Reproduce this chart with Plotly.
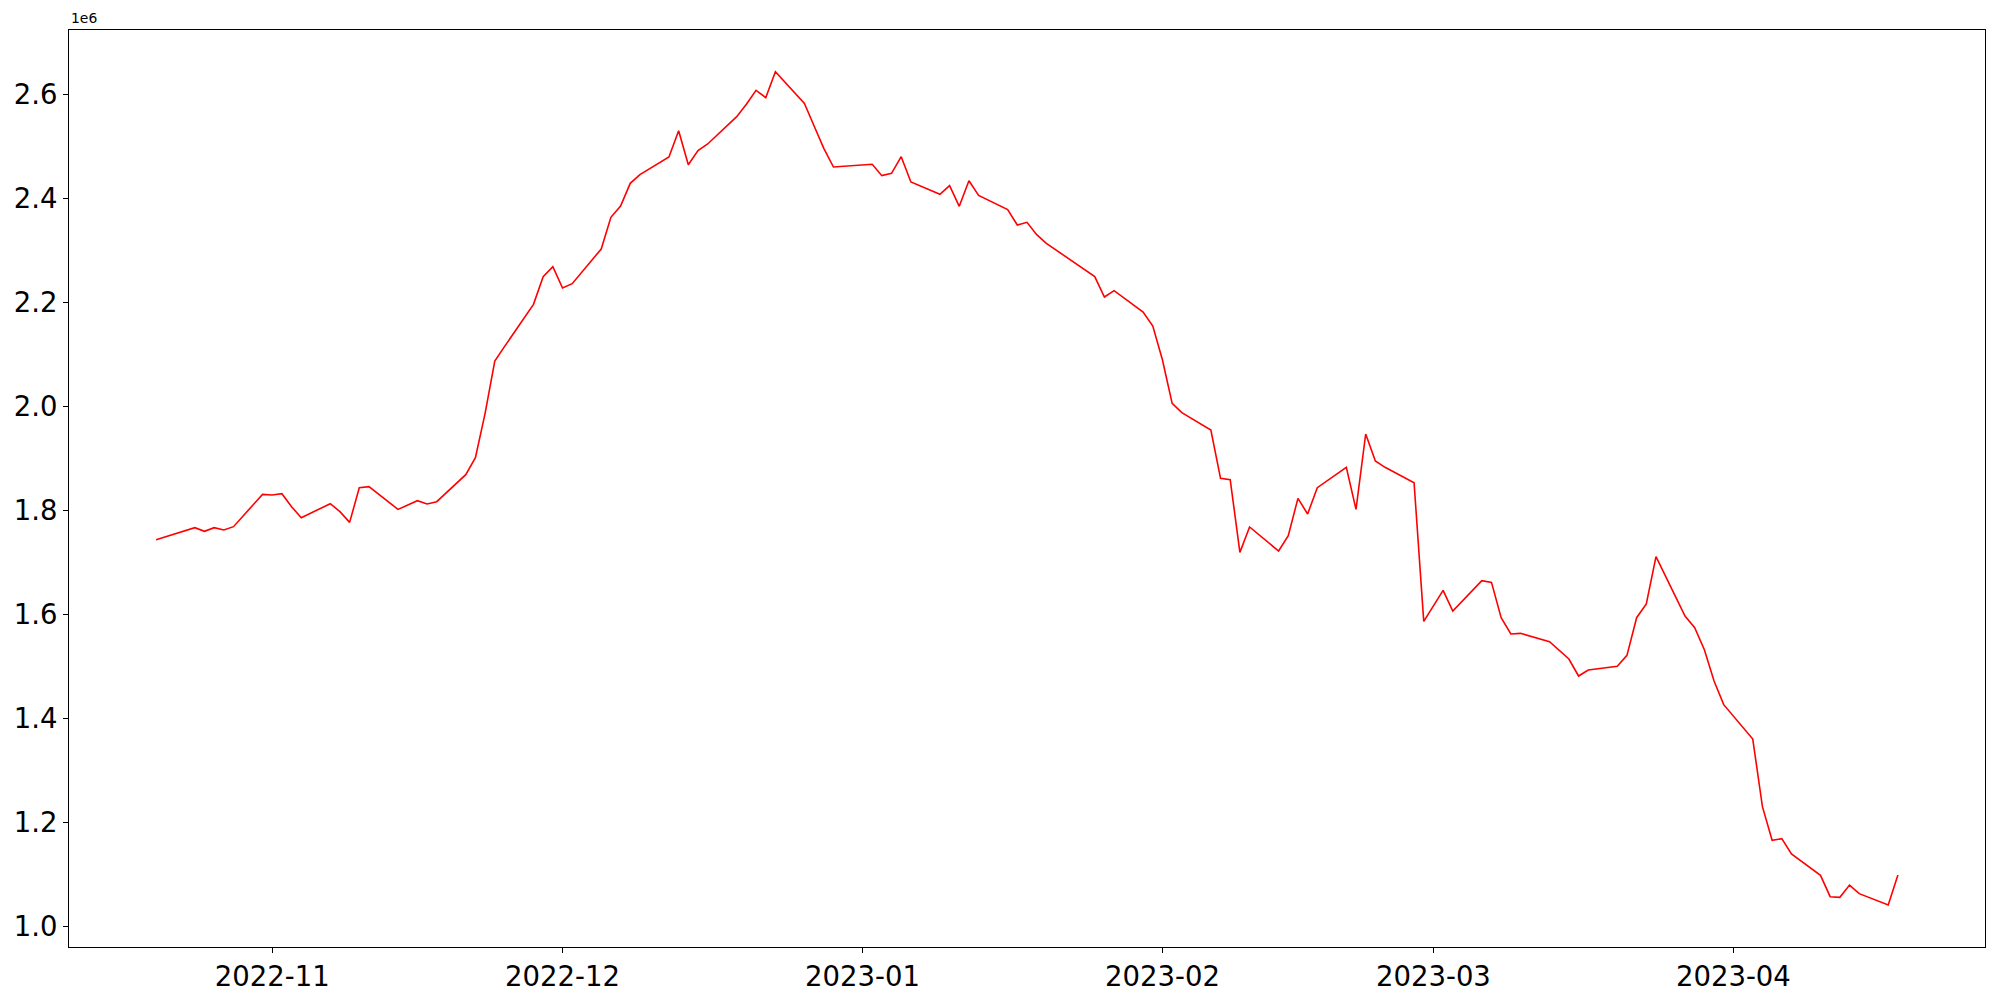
import plotly.graph_objects as go

dates = [
    "2022-10-20", "2022-10-21", "2022-10-24", "2022-10-25", "2022-10-26", "2022-10-27", "2022-10-28",
    "2022-10-31", "2022-11-01", "2022-11-02", "2022-11-03", "2022-11-04",
    "2022-11-07", "2022-11-08", "2022-11-09", "2022-11-10", "2022-11-11",
    "2022-11-14", "2022-11-15", "2022-11-16", "2022-11-17", "2022-11-18",
    "2022-11-21", "2022-11-22", "2022-11-23", "2022-11-24", "2022-11-25",
    "2022-11-28", "2022-11-29", "2022-11-30", "2022-12-01", "2022-12-02",
    "2022-12-05", "2022-12-06", "2022-12-07", "2022-12-08", "2022-12-09",
    "2022-12-12", "2022-12-13", "2022-12-14", "2022-12-15", "2022-12-16",
    "2022-12-19", "2022-12-20", "2022-12-21", "2022-12-22", "2022-12-23",
    "2022-12-26", "2022-12-27", "2022-12-28", "2022-12-29", "2022-12-30",
    "2023-01-02", "2023-01-03", "2023-01-04", "2023-01-05", "2023-01-06",
    "2023-01-09", "2023-01-10", "2023-01-11", "2023-01-12", "2023-01-13",
    "2023-01-16", "2023-01-17", "2023-01-18", "2023-01-19", "2023-01-20",
    "2023-01-25", "2023-01-26", "2023-01-27",
    "2023-01-30", "2023-01-31", "2023-02-01", "2023-02-02", "2023-02-03",
    "2023-02-06", "2023-02-07", "2023-02-08", "2023-02-09", "2023-02-10",
    "2023-02-13", "2023-02-14", "2023-02-15", "2023-02-16", "2023-02-17",
    "2023-02-20", "2023-02-21", "2023-02-22", "2023-02-23", "2023-02-24",
    "2023-02-27", "2023-02-28", "2023-03-01", "2023-03-02", "2023-03-03",
    "2023-03-06", "2023-03-07", "2023-03-08", "2023-03-09", "2023-03-10",
    "2023-03-13", "2023-03-14", "2023-03-15", "2023-03-16", "2023-03-17",
    "2023-03-20", "2023-03-21", "2023-03-22", "2023-03-23", "2023-03-24",
    "2023-03-27", "2023-03-28", "2023-03-29", "2023-03-30", "2023-03-31",
    "2023-04-03", "2023-04-04", "2023-04-05", "2023-04-06", "2023-04-07",
    "2023-04-10", "2023-04-11", "2023-04-12", "2023-04-13", "2023-04-14",
    "2023-04-17", "2023-04-18",
]

values = [
    1743200, 1749000, 1766300, 1759200, 1766300, 1761800, 1768200,
    1830400, 1829100, 1831700, 1806700, 1785500,
    1812400, 1797100, 1776500, 1843200, 1845200,
    1801500, 1809900, 1818200, 1811800, 1816300,
    1868200, 1900900, 1986200, 2086900, 2114500,
    2195900, 2249200, 2268400, 2227400, 2235700,
    2302400, 2363300, 2385100, 2428700, 2445400,
    2479400, 2530000, 2464600, 2491600, 2504400,
    2557000, 2580700, 2607600, 2593500, 2643500,
    2582600, 2539000, 2496100, 2460100, 2461400,
    2465300, 2443500, 2448000, 2480000, 2431300,
    2407600, 2424200, 2384500, 2433800, 2405600,
    2378100, 2348600, 2353700, 2330000, 2313300,
    2249200, 2210000, 2222200,
    2181200, 2154200, 2088800, 2005500, 1987500,
    1954200, 1861200, 1858600, 1718800, 1767600,
    1721400, 1750900, 1822700, 1792600, 1843200,
    1882400, 1801500, 1946500, 1894500, 1882400,
    1852800, 1586100, 1616200, 1645700, 1606000,
    1664300, 1661100, 1593100, 1561700, 1563000,
    1547000, 1530900, 1513600, 1480900, 1492400,
    1499500, 1520700, 1593100, 1619400, 1710500,
    1596300, 1573900, 1531600, 1471300, 1425800,
    1359700, 1229500, 1164800, 1168000, 1138500,
    1097400, 1056400, 1055100, 1078800, 1062200,
    1040400, 1098100,
]

x_tickvals = ["2022-11-01", "2022-12-01", "2023-01-01", "2023-02-01", "2023-03-01", "2023-04-01"]
x_ticktext = ["2022-11", "2022-12", "2023-01", "2023-02", "2023-03", "2023-04"]
y_tickvals = [1.0e6, 1.2e6, 1.4e6, 1.6e6, 1.8e6, 2.0e6, 2.2e6, 2.4e6, 2.6e6]
y_ticktext = ["1.0", "1.2", "1.4", "1.6", "1.8", "2.0", "2.2", "2.4", "2.6"]

fig = go.Figure()
fig.add_trace(go.Scatter(
    x=dates, y=values, mode="lines",
    line=dict(color="red", width=1.6),
    showlegend=False,
))

axis_common = dict(
    showgrid=False, zeroline=False, automargin=False,
    showline=True, linecolor="black", linewidth=1.2, mirror=True,
    ticks="outside", ticklen=5, tickwidth=1.2, tickcolor="black",
    tickfont=dict(family="DejaVu Sans", size=27.5, color="black"),
)

fig.update_xaxes(
    type="date",
    range=["2022-10-11", "2023-04-27"],
    tickmode="array", tickvals=x_tickvals, ticktext=x_ticktext,
    **axis_common,
)
fig.update_yaxes(
    range=[0.9596e6, 2.7237e6],
    tickmode="array", tickvals=y_tickvals, ticktext=y_ticktext,
    **axis_common,
)

fig.add_annotation(
    text="1e6", xref="paper", yref="paper", x=0, y=1,
    xanchor="left", yanchor="bottom", showarrow=False, yshift=2,
    font=dict(family="DejaVu Sans", size=13.9, color="black"),
)

fig.update_layout(
    width=1984, height=984,
    paper_bgcolor="white", plot_bgcolor="white",
    margin=dict(l=61, r=7, t=22, b=45, pad=0),
)

fig.write_html("out.html")
